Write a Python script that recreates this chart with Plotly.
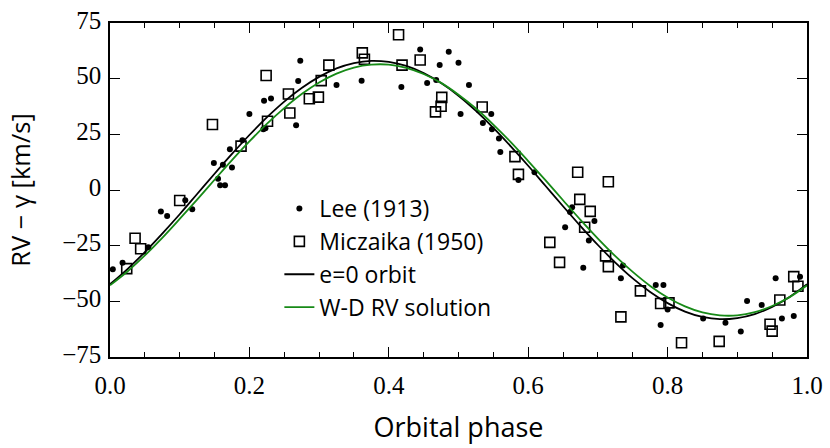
"""Radial velocity curve against orbital phase."""

import plotly.graph_objects

# Lee (1913) measurements
lee_phase = [
    0.004, 0.018, 0.055, 0.073, 0.082, 0.108, 0.118, 0.149, 0.155, 0.158,
    0.162, 0.165, 0.172, 0.175, 0.190, 0.200, 0.220, 0.223, 0.221, 0.231,
    0.267, 0.270, 0.273, 0.325, 0.361, 0.418, 0.445, 0.455, 0.468, 0.473,
    0.486, 0.500, 0.503, 0.515, 0.535, 0.547, 0.548, 0.558, 0.560, 0.586,
    0.609, 0.653, 0.660, 0.663, 0.679, 0.687, 0.695, 0.733, 0.736, 0.783,
    0.794, 0.790, 0.800, 0.851, 0.883, 0.905, 0.914, 0.935, 0.955, 0.964,
    0.981, 0.990,
]
lee_rv = [
    -35.6, -32.7, -25.7, -9.6, -11.7, -4.6, -8.7, 12.1, 5.1, 2.1,
    11.3, 2.1, 18.3, 10.1, 22.3, 34.1, 27.3, 27.7, 40.1, 41.1,
    29.1, 49.0, 58.1, 47.1, 49.1, 46.3, 63.1, 48.0, 49.4, 56.1,
    62.1, 57.1, 34.1, 47.1, 30.1, 34.1, 27.3, 23.1, 17.1, 4.5,
    8.0, -16.7, -9.9, -7.7, -34.9, -22.7, -13.9, -39.6, -33.9, -42.7,
    -42.7, -60.6, -53.7, -57.7, -59.6, -63.6, -49.9, -51.6, -39.6, -57.7,
    -56.6, -39.0,
]

# Miczaika (1950) measurements
miczaika_phase = [
    0.024, 0.036, 0.044, 0.100, 0.147, 0.188, 0.224, 0.226, 0.256, 0.258,
    0.286, 0.299, 0.303, 0.314, 0.362, 0.365, 0.414, 0.419, 0.445, 0.467,
    0.475, 0.476, 0.534, 0.581, 0.586, 0.631, 0.645, 0.671, 0.674, 0.681,
    0.689, 0.711, 0.715, 0.715, 0.733, 0.761, 0.790, 0.802, 0.820, 0.874,
    0.947, 0.950, 0.961, 0.981, 0.987,
]
miczaika_rv = [
    -35.3, -21.7, -26.4, -4.7, 29.4, 19.7, 51.4, 30.9, 43.1, 34.6,
    41.0, 41.7, 49.1, 56.1, 61.6, 58.7, 69.7, 56.1, 58.4, 35.1,
    37.6, 41.6, 37.3, 15.0, 7.0, -23.5, -32.5, 8.0, -4.2, -16.7,
    -9.6, -29.6, 3.7, -34.4, -57.0, -45.3, -51.0, -50.7, -68.6, -68.0,
    -60.3, -63.4, -49.4, -38.9, -43.2,
]

curve_phase = [i / 40 for i in range(41)]
circular_rv = [
    -42.3, -35.5, -27.9, -19.6, -10.9, -1.8, 7.3, 16.2, 24.7, 32.6,
    39.7, 45.8, 50.8, 54.6, 57.0, 58.0, 57.5, 55.7, 52.5, 48.0,
    42.3, 35.5, 27.9, 19.6, 10.9, 1.8, -7.3, -16.2, -24.7, -32.6,
    -39.7, -45.8, -50.8, -54.6, -57.0, -58.0, -57.5, -55.7, -52.5, -48.0,
    -42.3,
]
wd_rv = [
    -42.8, -36.6, -29.4, -21.5, -13.0, -4.3, 4.6, 13.4, 21.8, 29.7,
    36.8, 43.1, 48.3, 52.3, 55.0, 56.3, 56.3, 54.9, 52.1, 48.1,
    42.8, 36.6, 29.4, 21.5, 13.0, 4.3, -4.6, -13.4, -21.8, -29.7,
    -36.8, -43.1, -48.3, -52.3, -55.0, -56.3, -56.3, -54.9, -52.1, -48.1,
    -42.8,
]

SANS = "Open Sans, Noto Sans, sans-serif"
SERIF = "Liberation Serif, Times New Roman, serif"

figure = plotly.graph_objects.Figure()
figure.add_trace(
    plotly.graph_objects.Scatter(
        x=lee_phase,
        y=lee_rv,
        name="Lee (1913)",
        mode="markers",
        marker={"symbol": "circle", "size": 6, "color": "black"},
    )
)
figure.add_trace(
    plotly.graph_objects.Scatter(
        x=miczaika_phase,
        y=miczaika_rv,
        name="Miczaika (1950)",
        mode="markers",
        marker={
            "symbol": "square-open",
            "size": 10,
            "color": "black",
            "line": {"width": 1.6, "color": "black"},
        },
    )
)
figure.add_trace(
    plotly.graph_objects.Scatter(
        x=curve_phase,
        y=circular_rv,
        name="e=0 orbit",
        mode="lines",
        line={"color": "black", "width": 1.8, "shape": "spline"},
    )
)
figure.add_trace(
    plotly.graph_objects.Scatter(
        x=curve_phase,
        y=wd_rv,
        name="W-D RV solution",
        mode="lines",
        line={"color": "#178a17", "width": 1.8, "shape": "spline"},
    )
)

figure.update_layout(
    width=830,
    height=448,
    margin={"l": 110, "r": 20, "t": 7, "b": 91},
    plot_bgcolor="white",
    paper_bgcolor="white",
    xaxis={
        "range": [0, 1],
        "dtick": 0.2,
        "tickformat": ".1f",
        "showline": True,
        "linecolor": "black",
        "linewidth": 1.5,
        "mirror": "allticks",
        "ticks": "inside",
        "tickcolor": "black",
        "tickwidth": 1.2,
        "ticklen": 10,
        "ticklabelstandoff": 5,
        "ticklabeloverflow": "allow",
        "showgrid": False,
        "zeroline": False,
        "tickfont": {"family": SERIF, "size": 25, "color": "black"},
        "minor": {"dtick": 0.05, "ticks": "inside", "ticklen": 5, "tickcolor": "black"},
        "title": {
            "text": "Orbital phase",
            "font": {"family": SANS, "size": 27, "color": "black"},
            "standoff": 20,
        },
    },
    yaxis={
        "range": [-75, 75],
        "dtick": 25,
        "showline": True,
        "linecolor": "black",
        "linewidth": 1.5,
        "mirror": "allticks",
        "ticks": "inside",
        "tickcolor": "black",
        "tickwidth": 1.2,
        "ticklen": 10,
        "ticklabelshift": -3,
        "ticklabelstandoff": 2,
        "ticklabeloverflow": "allow",
        "showgrid": False,
        "zeroline": False,
        "tickfont": {"family": SERIF, "size": 25, "color": "black"},
        "title": {
            # two trailing no-break spaces nudge the rotated text down a little
            "text": "RV \u2212 \u03b3 [km/s]\u00a0\u00a0",
            "font": {"family": SANS, "size": 25.5, "color": "black"},
            "standoff": 24,
        },
    },
    legend={
        "x": 0.243,
        "y": 0.509,
        "xanchor": "left",
        "yanchor": "top",
        "bgcolor": "rgba(0,0,0,0)",
        "font": {"family": SANS, "size": 23, "color": "black"},
    },
    showlegend=True,
)

figure.write_html(
    "out.html",
    config={"displayModeBar": False},
    post_script="document.body.style.margin = '0';",
)
